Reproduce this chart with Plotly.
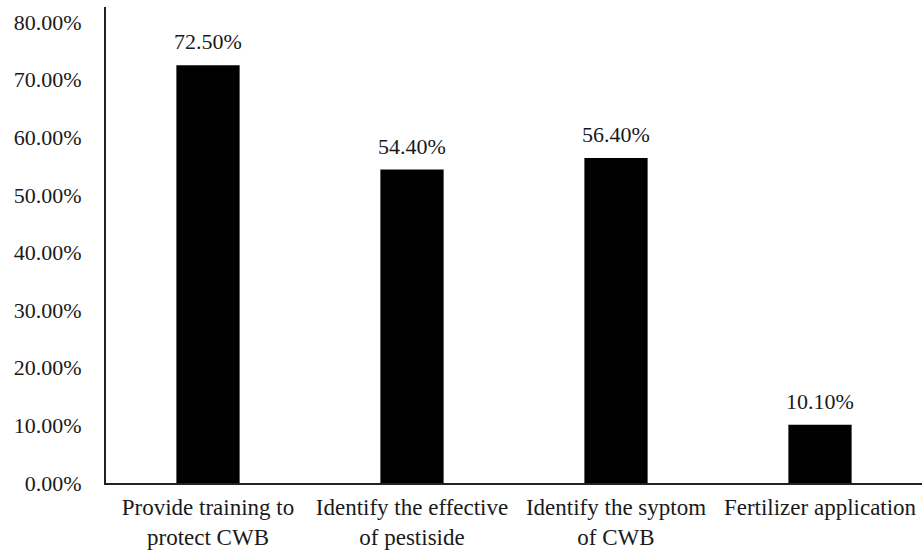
import plotly.graph_objects as go

categories = ["Provide training to<br>protect CWB", "Identify the effective<br>of pestiside",
              "Identify the syptom<br>of CWB", "Fertilizer application"]
values = [0.725, 0.544, 0.564, 0.101]
tick_vals = [0, 0.1, 0.2, 0.3, 0.4, 0.5, 0.6, 0.7, 0.8]
tick_text = ["0.00%", "10.00%", "20.00%", "30.00%", "40.00%", "50.00%", "60.00%", "70.00%", "80.00%"]
labels = ["72.50%", "54.40%", "56.40%", "10.10%"]

FONT = "Liberation Serif, Times New Roman, serif"
TXT = "#1a1a1a"

fig = go.Figure(go.Bar(x=categories, y=values, marker=dict(color="black", line=dict(width=0)),
                       width=0.31))

for c, v, t in zip(categories, values, labels):
    fig.add_annotation(x=c, y=v, text=t, showarrow=False, yanchor="bottom", yshift=9,
                       font=dict(family=FONT, size=22, color=TXT))

fig.update_layout(
    width=924, height=552,
    margin=dict(l=106, r=2, t=7, b=69),
    plot_bgcolor="white", paper_bgcolor="white",
    showlegend=False,
    font=dict(family=FONT, size=22, color=TXT),
    xaxis=dict(showline=True, linecolor="#222", linewidth=2, ticks="", showgrid=False,
               ticklabelstandoff=2, automargin=False,
               tickfont=dict(family=FONT, size=23, color=TXT)),
    yaxis=dict(range=[0, 0.826], tickvals=tick_vals, ticktext=tick_text, showline=True,
               linecolor="#222", linewidth=2, ticks="", showgrid=False, zeroline=False,
               automargin=False,
               ticklabelstandoff=18, tickfont=dict(family=FONT, size=22, color=TXT)),
)
fig.write_html("out.html", config={"displayModeBar": False},
               post_script="document.body.style.margin='0';")
